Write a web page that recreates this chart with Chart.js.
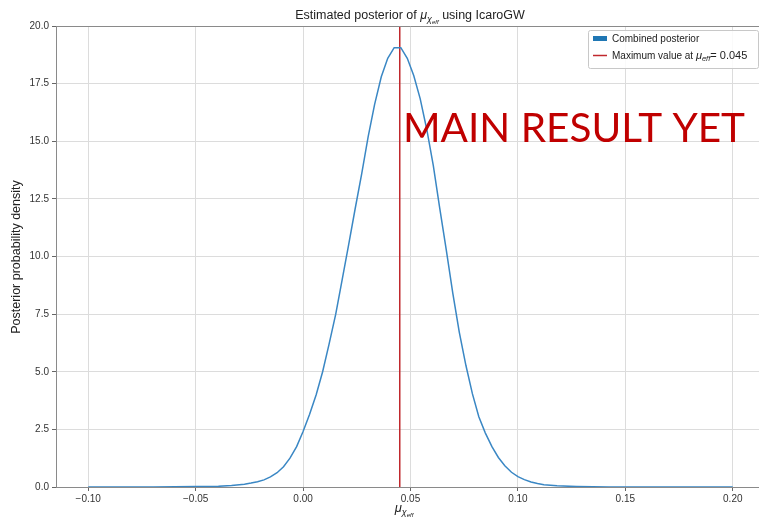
<!DOCTYPE html>
<html>
<head>
<meta charset="utf-8">
<script src="https://cdn.jsdelivr.net/npm/chart.js@4.4.1/dist/chart.umd.min.js"></script>
<style>
  html, body { margin: 0; padding: 0; background: #fff; overflow: hidden; }
  #wrap { position: relative; width: 767px; height: 518px; }
</style>
</head>
<body>
<div id="wrap"><canvas id="chart" width="767" height="518"></canvas></div>
<script>
// posterior curve
const muEff = [
  -0.1, -0.0697, -0.0394, -0.0333, -0.0273, -0.0242, -0.0212, -0.0182, -0.0152, -0.0121,
  -0.0091, -0.0061, -0.0030, 0.0000, 0.0030, 0.0061, 0.0091, 0.0121, 0.0152, 0.0182,
  0.0212, 0.0242, 0.0273, 0.0303, 0.0333, 0.0364, 0.0394, 0.0424, 0.0455, 0.0485,
  0.0515, 0.0545, 0.0576, 0.0606, 0.0636, 0.0667, 0.0697, 0.0727, 0.0758, 0.0788,
  0.0818, 0.0848, 0.0879, 0.0909, 0.0939, 0.0970, 0.1000, 0.1030, 0.1061, 0.1091,
  0.1121, 0.1182, 0.1273, 0.1424, 0.2
];
const posterior = [
  0.0, 0.0, 0.03, 0.06, 0.12, 0.17, 0.23, 0.31, 0.44, 0.62,
  0.88, 1.25, 1.75, 2.41, 3.15, 4.0, 5.0, 6.2, 7.5, 9.0,
  10.5, 12.05, 13.6, 15.2, 16.6, 17.8, 18.6, 19.06, 19.06, 18.6,
  17.85, 16.85, 15.5, 13.95, 12.1, 10.25, 8.4, 6.72, 5.27, 4.05,
  3.05, 2.35, 1.75, 1.28, 0.92, 0.64, 0.45, 0.32, 0.22, 0.15,
  0.1, 0.05, 0.02, 0.0, 0.0
];
const maxValue = 0.045;
const xTicks = [-0.10, -0.05, 0.00, 0.05, 0.10, 0.15, 0.20];
const xTickLabels = ['\u22120.10', '\u22120.05', '0.00', '0.05', '0.10', '0.15', '0.20'];
const yTicks = [0, 2.5, 5, 7.5, 10, 12.5, 15, 17.5, 20];
const yTickLabels = ['0.0', '2.5', '5.0', '7.5', '10.0', '12.5', '15.0', '17.5', '20.0'];

const blue = '#3a87c4';
const red = '#c0282d';
const sans = '"Liberation Sans", Arial, sans-serif';

// draw a run of text pieces, some smaller/lowered for subscripts
function drawMath(ctx, x, y, parts, align) {
  let w = 0;
  parts.forEach(p => {
    ctx.font = (p.i ? 'italic ' : '') + p.s + 'px ' + sans;
    p.w = ctx.measureText(p.t).width;
    w += p.w;
  });
  let cx = align === 'center' ? x - w / 2 : x;
  ctx.textAlign = 'left';
  ctx.textBaseline = 'alphabetic';
  parts.forEach(p => {
    ctx.font = (p.i ? 'italic ' : '') + p.s + 'px ' + sans;
    ctx.fillText(p.t, cx, y + (p.dy || 0));
    cx += p.w;
  });
}

const decorations = {
  id: 'decorations',
  afterDraw(chart) {
    const ctx = chart.ctx;
    const a = chart.chartArea;
    ctx.save();
    // top spine
    ctx.strokeStyle = '#8a8a8a';
    ctx.lineWidth = 1;
    ctx.beginPath();
    ctx.moveTo(a.left, a.top + 0.5);
    ctx.lineTo(a.right, a.top + 0.5);
    ctx.stroke();

    ctx.fillStyle = '#222';
    // title
    drawMath(ctx, 410, 19, [
      { t: 'Estimated posterior of ', s: 12.5 },
      { t: '\u03bc', s: 12.5, i: true },
      { t: '\u03c7', s: 9, i: true, dy: 3 },
      { t: 'eff', s: 6, i: true, dy: 5 },
      { t: ' using IcaroGW', s: 12.5 }
    ], 'center');
    // x axis title
    drawMath(ctx, 404, 512, [
      { t: '\u03bc', s: 13, i: true },
      { t: '\u03c7', s: 9, i: true, dy: 3 },
      { t: 'eff', s: 6, i: true, dy: 5 }
    ], 'center');
    // y axis title
    ctx.save();
    ctx.translate(20, 257);
    ctx.rotate(-Math.PI / 2);
    ctx.font = '12.5px ' + sans;
    ctx.textAlign = 'center';
    ctx.fillText('Posterior probability density', 0, 0);
    ctx.restore();

    // legend
    const lx = 588, ly = 30, lw = 170, lh = 38;
    ctx.fillStyle = 'rgba(255,255,255,0.85)';
    ctx.strokeStyle = '#c8c8c8';
    ctx.beginPath();
    ctx.roundRect(lx + 0.5, ly + 0.5, lw, lh, 2);
    ctx.fill();
    ctx.stroke();
    ctx.fillStyle = '#1f77b4';
    ctx.fillRect(593, 36, 14, 5);
    ctx.strokeStyle = red;
    ctx.lineWidth = 1.5;
    ctx.beginPath();
    ctx.moveTo(593, 55.5);
    ctx.lineTo(607, 55.5);
    ctx.stroke();
    ctx.fillStyle = '#222';
    drawMath(ctx, 612, 42, [{ t: 'Combined posterior', s: 10 }], 'left');
    drawMath(ctx, 612, 59, [
      { t: 'Maximum value at ', s: 10 },
      { t: '\u03bc', s: 11, i: true },
      { t: 'eff', s: 7.5, i: true, dy: 2 },
      { t: '= 0.045', s: 11 }
    ], 'left');

    // stamp
    ctx.fillStyle = '#c00000';
    const target = 342;
    ctx.font = '100px Lato, "Open Sans", sans-serif';
    const fs = 100 * target / ctx.measureText('MAIN RESULT YET').width;
    ctx.font = fs.toFixed(1) + 'px Lato, "Open Sans", sans-serif';
    ctx.textAlign = 'left';
    ctx.textBaseline = 'alphabetic';
    ctx.fillText('MAIN RESULT YET', 403, 142);
    ctx.restore();
  }
};

new Chart(document.getElementById('chart'), {
  type: 'line',
  data: {
    datasets: [
      {
        label: 'Combined posterior',
        data: muEff.map((x, i) => ({ x: x, y: posterior[i] })),
        borderColor: blue,
        borderWidth: 1.5,
        pointRadius: 0,
        tension: 0,
        fill: false
      },
      {
        label: 'Maximum value at \u03bc_eff = 0.045',
        data: [{ x: maxValue, y: 0 }, { x: maxValue, y: 20 }],
        borderColor: red,
        borderWidth: 1.5,
        pointRadius: 0,
        fill: false
      }
    ]
  },
  options: {
    responsive: false,
    animation: false,
    events: [],
    layout: { padding: { top: 26, right: 2, left: 0, bottom: 0 } },
    plugins: {
      legend: { display: false },
      title: { display: false },
      tooltip: { enabled: false }
    },
    scales: {
      x: {
        type: 'linear',
        min: -0.115,
        max: 0.215,
        afterBuildTicks: s => { s.ticks = xTicks.map(v => ({ value: v })); },
        afterFit: s => { s.height = 31; },
        ticks: {
          callback: (v, i) => xTickLabels[i],
          color: '#333',
          font: { size: 10, family: sans },
          padding: 2,
          maxRotation: 0
        },
        grid: { color: '#dcdcdc', tickColor: '#666', tickLength: 4 },
        border: { color: '#8a8a8a' }
      },
      y: {
        min: 0,
        max: 20,
        afterBuildTicks: s => { s.ticks = yTicks.map(v => ({ value: v })); },
        afterFit: s => { s.width = 56; },
        ticks: {
          callback: (v, i) => yTickLabels[i],
          color: '#333',
          font: { size: 10, family: sans },
          padding: 3
        },
        grid: { color: '#dcdcdc', tickColor: '#666', tickLength: 4 },
        border: { color: '#8a8a8a' }
      }
    }
  },
  plugins: [decorations]
});
</script>
</body>
</html>
